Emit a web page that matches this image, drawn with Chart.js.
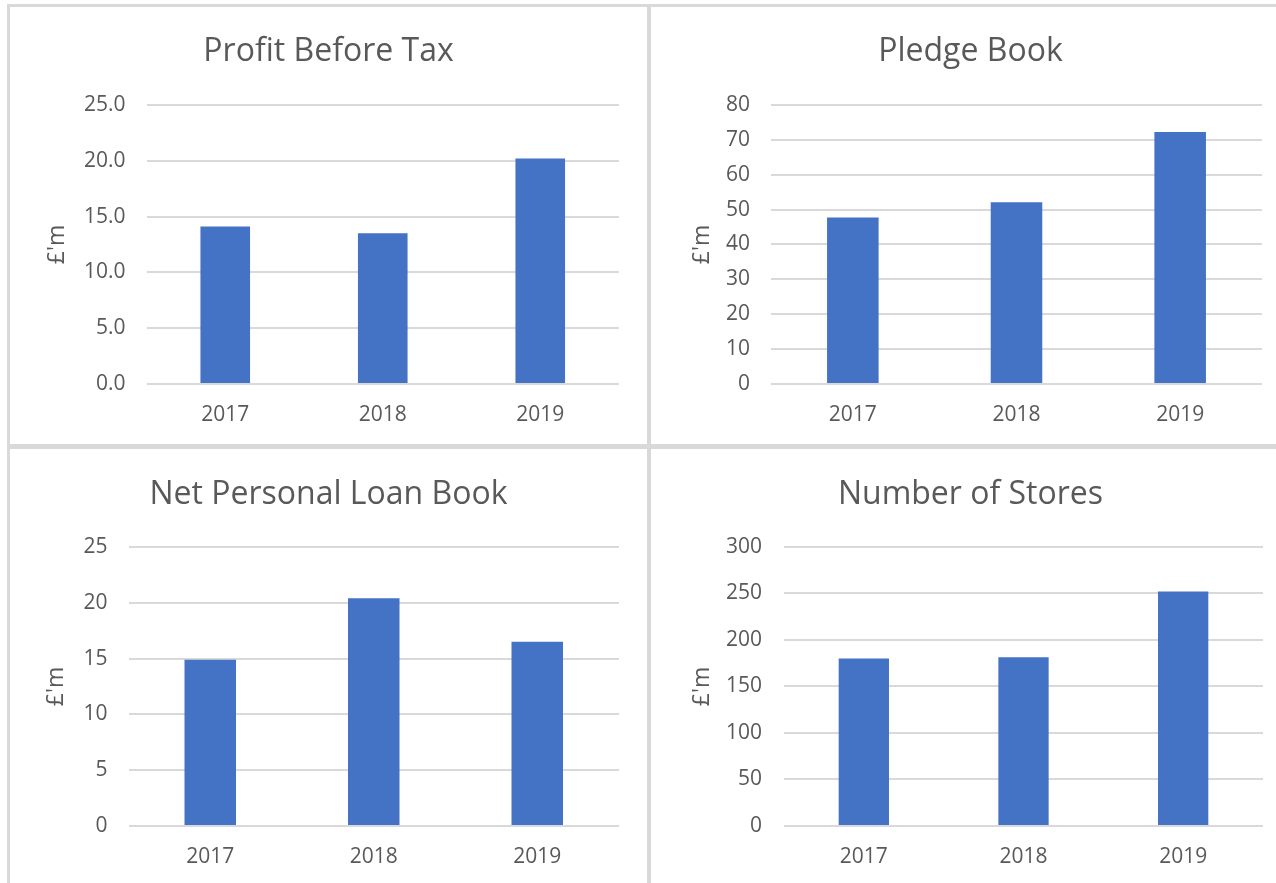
<!DOCTYPE html>
<html>
<head>
<meta charset="utf-8">
<script src="https://cdn.jsdelivr.net/npm/chart.js@4/dist/chart.umd.min.js"></script>
<style>
  body { margin: 0; background: #fff; width: 1276px; height: 883px; overflow: hidden; position: relative; }
  .line { position: absolute; background: #d9d9d9; }
  .panel { position: absolute; }
</style>
</head>
<body>
<div class="line" style="left:7px;top:4px;width:3px;height:879px"></div>
<div class="line" style="left:7px;top:4px;width:1269px;height:3px"></div>
<div class="line" style="left:647px;top:4px;width:4px;height:879px"></div>
<div class="line" style="left:7px;top:444px;width:1269px;height:5px"></div>

<div class="panel" style="left:10px;top:7px;width:637px;height:437px"><canvas id="c-profit"></canvas></div>
<div class="panel" style="left:651px;top:7px;width:639px;height:437px"><canvas id="c-pledge"></canvas></div>
<div class="panel" style="left:10px;top:449px;width:637px;height:434px"><canvas id="c-loan"></canvas></div>
<div class="panel" style="left:651px;top:449px;width:639px;height:434px"><canvas id="c-stores"></canvas></div>

<script>
const years = ['2017', '2018', '2019'];
const profitBeforeTax = [14.1, 13.5, 20.2];
const pledgeBook = [47.7, 52.1, 72.2];
const netPersonalLoanBook = [14.9, 20.4, 16.5];
const numberOfStores = [180, 181.5, 252];

const profitTicks = { max: 25, step: 5, decimals: 1 };
const pledgeTicks = { max: 80, step: 10, decimals: 0 };
const loanTicks = { max: 25, step: 5, decimals: 0 };
const storesTicks = { max: 300, step: 50, decimals: 0 };

const textColor = '#595959';
const fontFamily = "'Open Sans', 'Noto Sans', sans-serif";

function makeChart(id, title, values, ticks, lay) {
    const ctx = document.getElementById(id).getContext('2d');
    return new Chart(ctx, {
        type: 'bar',
        data: {
            labels: years,
            datasets: [{
                data: values,
                backgroundColor: '#4472c4',
                borderWidth: 0,
                barPercentage: 0.315,
                categoryPercentage: 1
            }]
        },
        options: {
            responsive: true,
            maintainAspectRatio: false,
            animation: false,
            layout: { padding: 0 },
            plugins: {
                legend: { display: false },
                tooltip: { enabled: false },
                title: {
                    display: true,
                    text: title,
                    color: textColor,
                    font: { family: fontFamily, size: 32, weight: 'normal', lineHeight: 1.2 },
                    padding: { top: lay.titleTop, bottom: lay.titleBottom }
                }
            },
            scales: {
                x: {
                    grid: { display: false, drawTicks: false },
                    border: { display: false },
                    ticks: { color: textColor, padding: lay.xPad, font: { family: fontFamily, size: 21 } },
                    afterFit: s => { s.height = lay.xHeight; }
                },
                y: {
                    min: 0,
                    max: ticks.max,
                    grid: { color: '#d9d9d9', lineWidth: 2, drawTicks: false },
                    border: { display: false },
                    ticks: {
                        stepSize: ticks.step,
                        color: textColor,
                        padding: lay.tickPad,
                        font: { family: fontFamily, size: 21 },
                        callback: v => v.toFixed(ticks.decimals)
                    },
                    title: {
                        display: true,
                        text: "£'m",
                        color: textColor,
                        font: { family: fontFamily, size: 23 },
                        padding: { top: lay.yTitle, bottom: 0 }
                    },
                    afterFit: s => { s.width = lay.left; }
                },
                // empty right-hand spacer so the chart title stays centred on the whole panel
                spacer: {
                    position: 'right',
                    grid: { display: false },
                    border: { display: false },
                    ticks: { display: false },
                    afterFit: s => { s.width = lay.right; }
                }
            }
        }
    });
}

makeChart('c-profit', 'Profit Before Tax', profitBeforeTax, profitTicks,
    { left: 136.5, right: 28, titleTop: 26, titleBottom: 33.5, xHeight: 60, xPad: 18, tickPad: 21, yTitle: 34 });
makeChart('c-pledge', 'Pledge Book', pledgeBook, pledgeTicks,
    { left: 120, right: 28, titleTop: 26, titleBottom: 33.5, xHeight: 60, xPad: 18, tickPad: 21, yTitle: 38 });
makeChart('c-loan', 'Net Personal Loan Book', netPersonalLoanBook, loanTicks,
    { left: 118.5, right: 28, titleTop: 27, titleBottom: 32.5, xHeight: 57, xPad: 18, tickPad: 21, yTitle: 33 });
makeChart('c-stores', 'Number of Stores', numberOfStores, storesTicks,
    { left: 133, right: 27, titleTop: 27, titleBottom: 32.5, xHeight: 57, xPad: 18, tickPad: 22, yTitle: 38 });
</script>
</body>
</html>
